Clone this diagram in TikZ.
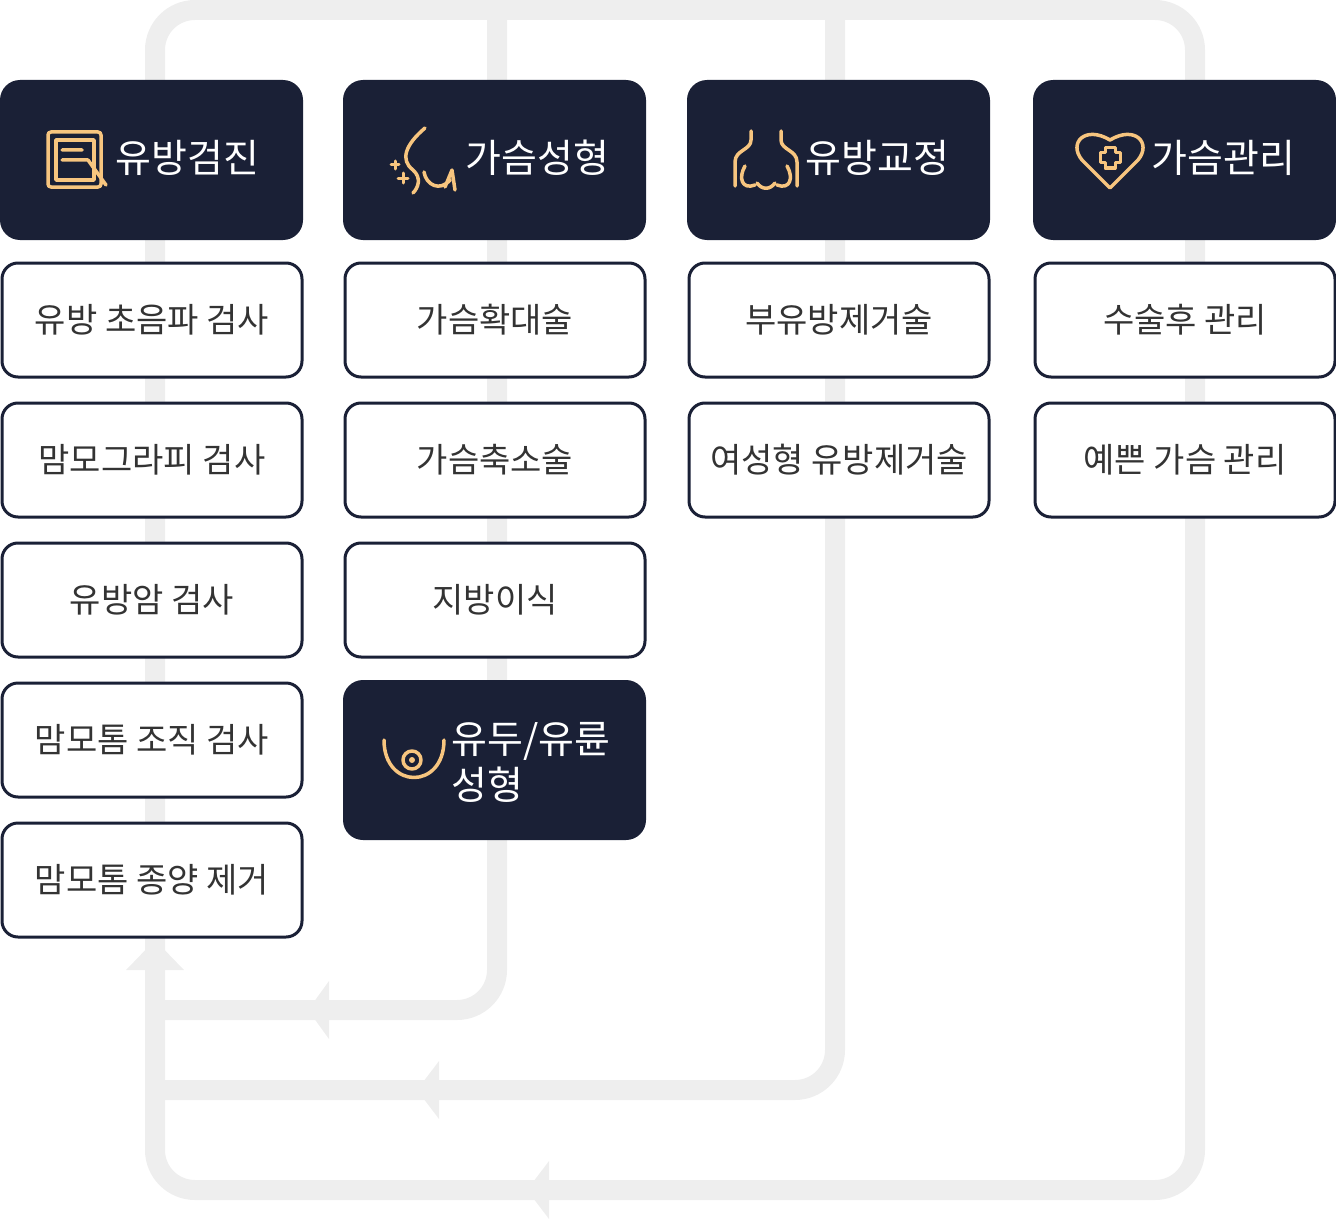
\documentclass[tikz,border=0pt]{standalone}
\usepackage{fontspec}
\setmainfont{Noto Sans CJK KR}
\begin{document}
\begin{tikzpicture}[x=1pt,y=-1pt,
  dark/.style={fill=navy,draw=none,rounded corners=20pt},
  item/.style={draw=navy,line width=3pt,fill=white,rounded corners=16pt,minimum width=300pt,minimum height=114pt,font=\fontsize{34}{38}\selectfont,text=txt},
  head/.style={font=\fontsize{39}{43}\selectfont,text=white,anchor=west},
  flow/.style={draw=lgray,line width=20pt,rounded corners=40pt},
  tip/.style={fill=lgray,draw=none},
  ico/.style={draw=gold,line width=3.5pt,line cap=round,line join=round}]
\definecolor{navy}{HTML}{1A2036}
\definecolor{lgray}{HTML}{EEEEEE}
\definecolor{gold}{HTML}{F7C57F}
\definecolor{txt}{HTML}{333333}
\useasboundingbox (0,0) rectangle (1336,1220);
% flow lines
\draw[flow] (155,960) -- (155,10) -- (1195,10) -- (1195,1190) -- (155,1190) -- (155,960);
\draw[flow] (497,10) -- (497,1010) -- (155,1010);
\draw[flow] (835,10) -- (835,1090) -- (155,1090);
\coordinate (u) at (155,940);
\fill[tip] (u) -- (184,970) -- (126,970) -- cycle;
\fill[tip] (308,1010) -- (329,981) -- (329,1039) -- cycle;
\fill[tip] (417,1090) -- (439,1061) -- (439,1119) -- cycle;
\fill[tip] (527,1190) -- (549,1161) -- (549,1219) -- cycle;
% headers
\fill[dark] (0,80) rectangle (303,240);
\fill[dark] (343,80) rectangle (646,240);
\fill[dark] (687,80) rectangle (990,240);
\fill[dark] (1033,80) rectangle (1336,240);
\fill[dark] (343,680) rectangle (646,840);
\node[head] (h1) at (112,158) {유방검진};
\node[head] (h2) at (462,158) {가슴성형};
\node[head] (h3) at (802,158) {유방교정};
\node[head] (h4) at (1148,158) {가슴관리};
\node[head,align=left,font=\fontsize{39}{46}\selectfont] (h5) at (448,762) {유두/유륜\\성형};
% icons
\draw[ico,rounded corners=3pt] (48,132) rectangle (101,187);
\draw[ico] (56,140) -- (56,180) -- (94,180) -- (94,140) -- cycle;
\draw[ico] (62,150) -- (82,150) (62,160) -- (88,160) (88,160) -- (106,185);
\draw[ico] (425,128) .. controls (405,145) and (400,160) .. (413,170) .. controls (422,178) and (418,188) .. (413,193);
\draw[ico] (424,172) .. controls (426,185) and (440,192) .. (450,180) (445,187) -- (452,170) -- (455,190);
\draw[ico,line width=3pt] (391,165) -- (399,165) (395,161) -- (395,169) (398,178) -- (408,178) (403,173) -- (403,183);
\draw[ico] (751,131) -- (751,140) .. controls (751,150) and (735,150) .. (735,162) -- (735,186);
\draw[ico] (781,131) -- (781,140) .. controls (781,150) and (797,150) .. (797,162) -- (797,186);
\draw[ico] (745,166) .. controls (738,178) and (742,190) .. (755,185) (787,166) .. controls (794,178) and (790,190) .. (777,185) (757,183) .. controls (762,190) and (770,190) .. (775,183);
\draw[ico] (1110,188) -- (1082,160) .. controls (1068,143) and (1085,125) .. (1110,140) .. controls (1135,125) and (1152,143) .. (1138,160) -- cycle;
\draw[ico,line width=3pt] (1105,148) -- (1115,148) -- (1115,153) -- (1120,153) -- (1120,163) -- (1115,163) -- (1115,168) -- (1105,168) -- (1105,163) -- (1100,163) -- (1100,153) -- (1105,153) -- cycle;
\draw[ico] (384,740) .. controls (384,790) and (444,790) .. (444,740);
\draw[ico] (412,760) circle (9pt);
\fill[gold] (412,760) circle (3pt);
% items
\node[item] (a1) at (152,320) {유방 초음파 검사};
\node[item] (a2) at (152,460) {맘모그라피 검사};
\node[item] (a3) at (152,600) {유방암 검사};
\node[item] (a4) at (152,740) {맘모톰 조직 검사};
\node[item] (a5) at (152,880) {맘모톰 종양 제거};
\node[item] (b1) at (495,320) {가슴확대술};
\node[item] (b2) at (495,460) {가슴축소술};
\node[item] (b3) at (495,600) {지방이식};
\node[item] (c1) at (839,320) {부유방제거술};
\node[item] (c2) at (839,460) {여성형 유방제거술};
\node[item] (d1) at (1185,320) {수술후 관리};
\node[item] (d2) at (1185,460) {예쁜 가슴 관리};
\end{tikzpicture}
\end{document}
